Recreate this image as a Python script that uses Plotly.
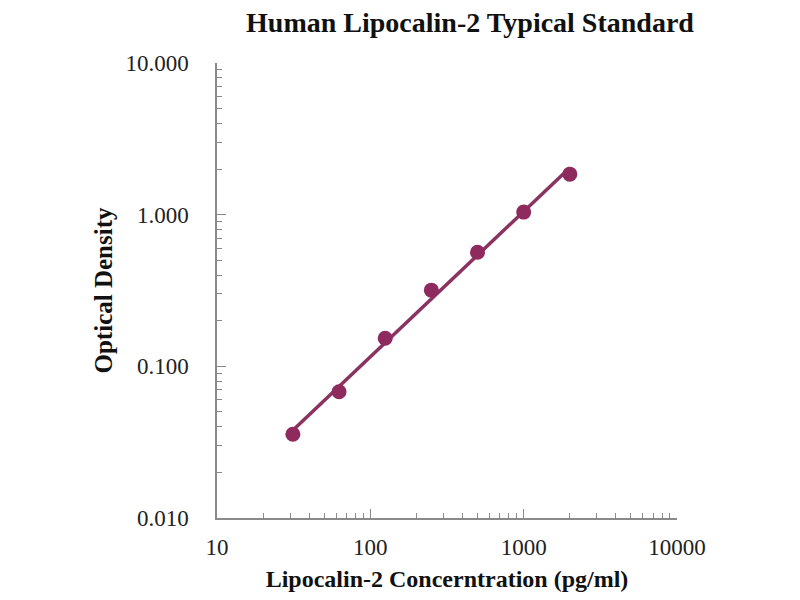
import numpy as np
import plotly.graph_objects as go

# Data
concentration = [31.25, 62.5, 125, 250, 500, 1000, 2000]
optical_density = [0.0357, 0.068, 0.153, 0.318, 0.565, 1.04, 1.85]

x_tick_vals = [10, 100, 1000, 10000]
x_tick_text = ["10", "100", "1000", "10000"]
y_tick_vals = [0.01, 0.1, 1, 10]
y_tick_text = ["0.010", "0.100", "1.000", "10.000"]

title_text = "Human Lipocalin-2 Typical Standard"
x_title = "Lipocalin-2 Concerntration (pg/ml)"
y_title = "Optical Density"

# power-law trend line fitted in log space
lx = np.log10(concentration)
ly = np.log10(optical_density)
slope, intercept = np.polyfit(lx, ly, 1)
fit_x = [concentration[0], concentration[-1]]
fit_y = [10 ** (intercept + slope * np.log10(v)) for v in fit_x]

color = "#8E2A5E"
serif = "Liberation Serif, Times New Roman, serif"

fig = go.Figure()
fig.add_trace(go.Scatter(x=fit_x, y=fit_y, mode="lines",
                         line=dict(color="#8B3360", width=3.5),
                         hoverinfo="skip", showlegend=False))
fig.add_trace(go.Scatter(x=concentration, y=optical_density, mode="markers",
                         marker=dict(color=color, size=15),
                         showlegend=False))

axis_common = dict(
    type="log",
    showgrid=False,
    zeroline=False,
    showline=True,
    linecolor="#8a8a8a",
    linewidth=1.5,
    ticks="inside",
    ticklen=9,
    tickcolor="#8a8a8a",
    tickwidth=1.2,
    tickfont=dict(family=serif, size=23, color="#222"),
    minor=dict(dtick="D1", ticks="inside", ticklen=5, tickcolor="#8a8a8a",
               tickwidth=1, showgrid=False),
)

fig.update_xaxes(**axis_common, range=[1, 4], tickmode="array",
                 tickvals=x_tick_vals, ticktext=x_tick_text,
                 ticklabelstandoff=8,
                 title=dict(text="<b>" + x_title + "</b>",
                            font=dict(family=serif, size=24, color="#111"),
                            standoff=11))
fig.update_yaxes(**axis_common, range=[-2, 1], tickmode="array",
                 tickvals=y_tick_vals, ticktext=y_tick_text,
                 ticklabelstandoff=22,
                 title=dict(text="<b>" + y_title + "</b>",
                            font=dict(family=serif, size=25, color="#111"),
                            standoff=6))

fig.update_layout(
    width=800, height=600,
    paper_bgcolor="white", plot_bgcolor="white",
    margin=dict(l=209, r=131, t=55, b=90, autoexpand=False),
    title=dict(text="<b>" + title_text + "</b>",
               font=dict(family=serif, size=28, color="#111"),
               x=462 / 800, xref="container", xanchor="center",
               y=1 - 14 / 600, yref="container", yanchor="middle",
               pad=dict(t=0, b=0, l=0, r=0)),
)

fig.write_html("out.html")
